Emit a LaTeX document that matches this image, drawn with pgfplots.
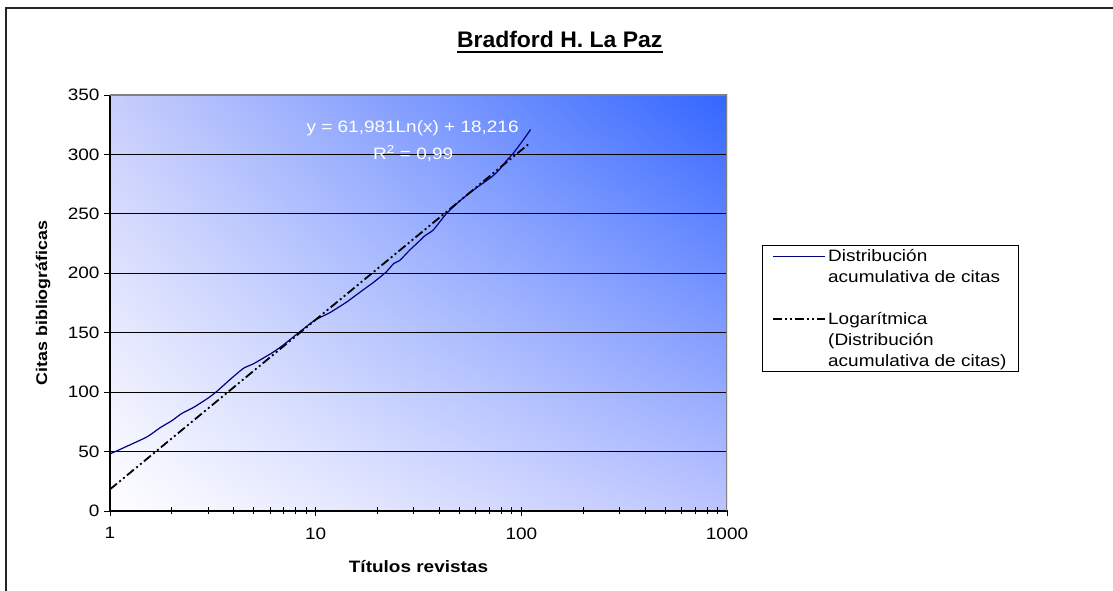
\documentclass[border=0pt]{standalone}
\usepackage{fontspec}
\setmainfont{Liberation Sans}[FakeStretch=1.15]
\newfontfamily\titlefont{Liberation Sans}[FakeStretch=1.02]
\usepackage{pgfplots}
\pgfplotsset{compat=1.18}
\usetikzlibrary{shadings}
\definecolor{plotblue}{RGB}{51,102,255}
\definecolor{ulc}{RGB}{200,206,252}
\definecolor{lrc}{RGB}{188,196,255}
\definecolor{navyline}{RGB}{0,0,128}
\newcommand{\fs}{\fontsize{16.5}{21}\selectfont}
\begin{document}
\begin{tikzpicture}
\useasboundingbox (0pt,0pt) rectangle (1113pt,591pt);
\draw[line width=1.3pt, black!85] (6pt,-20pt) -- (6pt,583pt) -- (1140pt,583pt);
\node[anchor=base, inner sep=0pt, font=\titlefont\fontsize{22.5}{26}\selectfont\bfseries] (T) at (559.7pt,543pt) {Bradford H. La Paz};
\draw[line width=2.2pt] ([yshift=-4pt]T.base west) -- ([yshift=-4pt]T.base east);
\begin{axis}[
  at={(110pt,80pt)}, anchor=south west,
  scale only axis, width=617pt, height=416pt,
  xmode=log, xmin=1, xmax=1000, ymin=0, ymax=350,
  xtick={1,10,100,1000}, xticklabels={1,10,100,1000},
  ytick={0,50,...,350},
  axis x line*=bottom, axis y line*=left,
  axis line style={line width=1.3pt, black},
  ymajorgrids, major grid style={black, line width=0.9pt},
  tick align=center, major tick length=6pt, minor tick length=7pt,
  tick style={black, line width=0.9pt},
  major x tick style={yshift=-2.5pt},
  major y tick style={xshift=-3pt},
  /pgf/number format/assume math mode=true,
  ticklabel style={font=\fs},
  yticklabel style={xshift=-4pt},
  xticklabel style={yshift=-10pt},
  axis background/.style={shade, lower left=white, upper right=plotblue, upper left=ulc, lower right=lrc},
  xlabel={\bfseries Títulos revistas},
  ylabel={\bfseries Citas bibliográficas},
  xlabel style={at={(axis description cs:0.5,-0.1334)}, anchor=center, font=\fs},
  ylabel style={at={(axis description cs:-0.1086,0.5)}, anchor=center, font=\fontsize{15.5}{18}\selectfont},
  legend style={at={(axis description cs:1.0567,0.6394)}, anchor=north west, draw=black, line width=0.8pt, fill=white, font=\fs, cells={align=left, anchor=west}, inner xsep=10pt, inner ysep=2pt, row sep=24pt, /tikz/column 2/.style={column sep=6pt}},
  legend cell align=left,
  legend image code/.code={\draw[#1] (0pt,0pt) -- (52pt,0pt);},
]
\addplot[navyline, line width=1.2pt, smooth, tension=0.3, legend image post style={yshift=10.5pt}] coordinates {
(1,48) (1.5,62) (1.75,70) (2,76) (2.23,82) (2.54,87) (3,95) (3.3,100.5) (3.8,110) (4.45,120) (5,124) (6.2,133.5) (7,140) (8.4,151) (9.9,160.5) (11.7,166.8) (14.2,176) (17,186) (19,192) (22,201) (23.9,208) (25.7,211) (28.7,219.6) (31,225) (34,231.6) (37.3,236.4) (43.3,250.4) (50.3,261) (57,268.5) (62.9,274) (71.7,281) (78,287) (85,295) (91.4,301) (102,312) (111,321)
};
\addlegendentry{Distribución\\acumulativa de citas}
\addplot[black, line width=1.8pt, dash pattern=on 9pt off 3pt on 2pt off 3pt on 2pt off 3pt, legend image post style={yshift=21pt}] coordinates {
(1,18.22) (2,61.18) (5,117.97) (10,160.93) (20,203.90) (50,260.69) (100,303.65) (108,308.4)
};
\addlegendentry{Logarítmica\\(Distribución\\acumulativa de citas)}
\draw[color={rgb,255:red,128;green,128;blue,128}, line width=1.3pt] (rel axis cs:0,1) -- (rel axis cs:1,1) -- (rel axis cs:1,0);
\node[white, font=\fs] at (axis cs:29.6,322.2) {y = 61,981Ln(x) + 18,216};
\node[white, font=\fs] at (axis cs:29.8,301) {R\textsuperscript{2} = 0,99};
\end{axis}
\end{tikzpicture}
\end{document}
